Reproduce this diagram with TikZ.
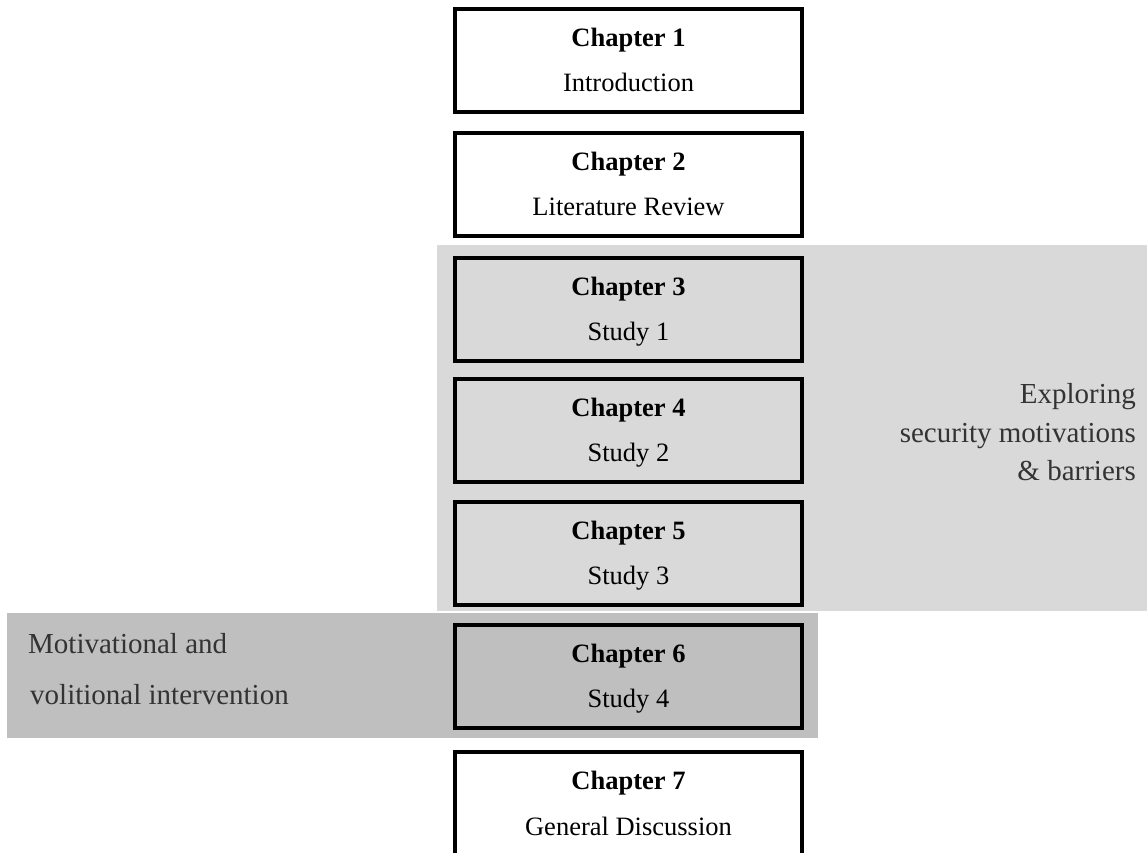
\documentclass[tikz,border=0pt]{standalone}
\usepackage{fontspec}
\setmainfont{Liberation Serif}
\definecolor{bandlight}{HTML}{D9D9D9}
\definecolor{banddark}{HTML}{BFBFBF}
\definecolor{sidetext}{HTML}{333333}
\begin{document}
\begin{tikzpicture}[x=1pt,y=-1pt,
  chbox/.style={draw=black, line width=4pt, minimum width=347pt,
    minimum height=102.5pt, inner sep=0pt},
  chtitle/.style={anchor=base, inner sep=0pt,
    font=\fontsize{26.5}{30}\selectfont\bfseries},
  chsub/.style={anchor=base, inner sep=0pt,
    font=\fontsize{26.5}{30}\selectfont},
  sidelabel/.style={inner sep=0pt, text=sidetext,
    font=\fontsize{29}{34}\selectfont},
]
\useasboundingbox (0,0) rectangle (1147,852);
\clip (0,0) rectangle (1147,852);

% shaded bands grouping the studies
\fill[bandlight] (437,245) rectangle (1147,611);
\fill[banddark] (7,613) rectangle (818,738);

% chapter boxes
\node[chbox, fill=white] (c1) at (628.5,60.25) {};
\node[chbox, fill=white] (c2) at (628.5,184.25) {};
\node[chbox] (c3) at (628.5,309.25) {};
\node[chbox] (c4) at (628.5,430.25) {};
\node[chbox] (c5) at (628.5,553.25) {};
\node[chbox, fill=banddark] (c6) at (628.5,676.25) {};
\node[chbox, fill=white] (c7) at (628.5,803.25) {};

% box texts
\node[chtitle] (t1) at (628.5,46.5) {Chapter 1};
\node[chsub] (s1) at (628.5,91.5) {Introduction};
\node[chtitle] (t2) at (628.5,170.5) {Chapter 2};
\node[chsub] (s2) at (628.5,215.5) {Literature Review};
\node[chtitle] (t3) at (628.5,295) {Chapter 3};
\node[chsub] (s3) at (628.5,340.5) {Study 1};
\node[chtitle] (t4) at (628.5,416.5) {Chapter 4};
\node[chsub] (s4) at (628.5,461.5) {Study 2};
\node[chtitle] (t5) at (628.5,539.5) {Chapter 5};
\node[chsub] (s5) at (628.5,584.5) {Study 3};
\node[chtitle] (t6) at (628.5,662.5) {Chapter 6};
\node[chsub] (s6) at (628.5,707.5) {Study 4};
\node[chtitle] (t7) at (628.5,789) {Chapter 7};
\node[chsub] (s7) at (628.5,835) {General Discussion};

% band labels
\node[sidelabel, anchor=base east] (e1) at (1136,403) {Exploring};
\node[sidelabel, anchor=base east] (e2) at (1136,442) {security motivations};
\node[sidelabel, anchor=base east] (e3) at (1136,480) {\& barriers};
\node[sidelabel, anchor=base west] (m1) at (28,653) {Motivational and};
\node[sidelabel, anchor=base west] (m2) at (30,704) {volitional intervention};
\end{tikzpicture}
\end{document}
